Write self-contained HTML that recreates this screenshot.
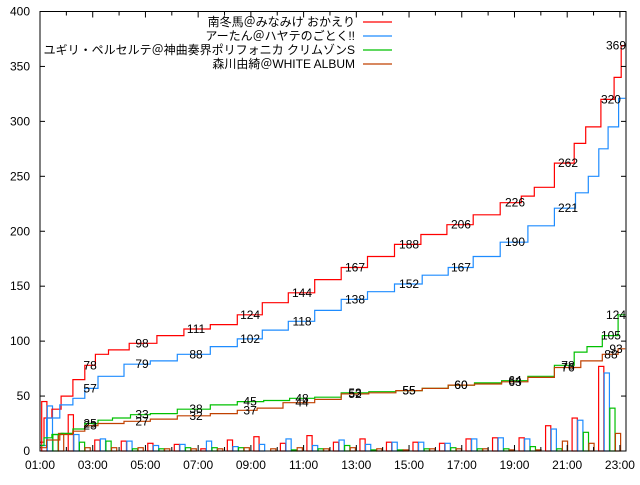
<!DOCTYPE html>
<html><head><meta charset="utf-8"><style>
html,body{margin:0;padding:0;background:#fff;}
svg text{font-family:"Liberation Sans","Noto Sans CJK JP",sans-serif;font-size:12px;fill:#000;}
</style></head><body>
<svg id="chart" width="640" height="480" viewBox="0 0 640 480" xmlns="http://www.w3.org/2000/svg">
<rect x="0" y="0" width="640" height="480" fill="#fff"/>
<g id="bars"></g>
<g id="lines"></g>
<g id="labels"></g>
<g id="axes"></g>
<g id="legend"></g>
</svg>
<script>
const names = ["南冬馬＠みなみけ おかえり","アーたん＠ハヤテのごとく!!","ユギリ・ペルセルテ＠神曲奏界ポリフォニカ クリムゾンS","森川由綺＠WHITE ALBUM"];
const colors = ["#ff0000","#1e8cff","#00c000","#c04000"];
const hours = [1,2,3,4,5,6,7,8,9,10,11,12,13,14,15,16,17,18,19,20,21,22];
const barsRed   = [45,33,10,9,7,6,2,10,13,7,14,8,11,8,8,7,11,12,12,23,30,77];
const barsBlue  = [41,15,11,9,5,6,9,4,6,11,5,10,6,8,8,7,11,12,11,20,28,71];
const barsGreen = [15,8,9,2,2,3,3,3,0,1,2,5,1,1,2,3,2,2,4,2,17,39];
const barsBrown = [16,3,3,3,2,2,2,3,2,3,2,3,2,1,2,2,2,1,1,9,7,16];
const redT   = [1.0,1.3,1.6,2.0,2.5,2.9,3.3,3.9,4.87,6.0,6.92,8.0,8.97,9.9,10.94,11.9,12.95,13.9,15.0,15.9,16.97,17.9,19.02,19.5,20.0,21.03,21.5,21.9,22.66,22.9,23.2];
const redV   = [8,30,38,50,65,78,88,92,98,105,111,115,124,135,144,156,167,177,188,197,206,215,226,232,240,262,280,295,320,340,369];
const blueT  = [1.0,1.5,2.0,2.5,2.9,3.5,4.87,5.5,6.92,8.0,8.97,9.9,10.94,11.9,12.95,13.9,15.0,16.0,16.97,17.9,19.02,20.0,21.03,21.6,22.0,22.4,22.7,23.2];
const blueV  = [5,30,42,48,57,68,79,82,88,95,102,110,118,128,138,145,152,160,167,177,190,205,221,235,250,275,295,321];
const greenT = [1.0,1.3,1.6,2.0,2.5,2.9,3.5,4.0,4.87,5.5,6.92,8.0,8.97,10.0,10.94,11.9,12.95,14.0,15.0,16.0,16.97,18.0,19.02,20.0,21.03,21.5,22.0,22.66,23.2];
const greenV = [5,12,15,16,20,25,28,30,33,34,38,42,45,46,48,49,53,54,55,57,60,62,64,68,78,90,95,105,124];
const brownT = [1.0,1.5,2.0,2.5,2.9,3.5,4.87,5.5,6.92,8.0,8.97,9.5,10.94,11.9,12.95,14.0,15.0,16.0,16.97,18.0,19.02,20.0,21.03,22.0,22.66,23.2];
const brownV = [3,10,15,18,23,25,27,29,32,34,37,39,44,47,52,53,55,57,60,61,63,67,76,82,88,93];
const labelT = [2.9,4.87,6.92,8.97,10.94,12.95,15.0,16.97,19.02,21.03,22.66];
const yTicks = [0,50,100,150,200,250,300,350,400];
const xTickLabels = ["01:00","03:00","05:00","07:00","09:00","11:00","13:00","15:00","17:00","19:00","21:00","23:00"];

const NS="http://www.w3.org/2000/svg";
const X0=40,X1=626,Y0=451,Y1=11.5;
const xs=h=>X0+(h-1)*26.36;
const ys=v=>Y0-v*(Y0-Y1)/400;
function mk(tag,parent,attrs){const e=document.createElementNS(NS,tag);for(const k in attrs)e.setAttribute(k,attrs[k]);parent.appendChild(e);return e;}

const barsG=document.getElementById('bars');
const barSeries=[barsRed,barsBlue,barsGreen,barsBrown];
barSeries.forEach((arr,si)=>{
  arr.forEach((v,i)=>{
    const h=hours[i];
    const x=xs(h)+1.7+(h-1)*0.16+si*5.6;
    const r=mk('rect',barsG,{x:x,y:ys(v),width:5.2,height:Math.max(0,ys(0)-ys(v)),fill:'none',stroke:colors[si],'stroke-width':1.2});
    
    
  });
});

const linesG=document.getElementById('lines');
const labG=document.getElementById('labels');
const series=[[redT,redV],[blueT,blueV],[greenT,greenV],[brownT,brownV]];
const snames=['red','blue','green','brown'];
series.forEach(([T,V],si)=>{
  let d='M'+xs(T[0])+','+ys(V[0]);
  for(let i=1;i<T.length;i++){
    const xm=xs(T[i-1])+(xs(T[i])-xs(T[i-1]))*0.5;
    d+=' H'+xm.toFixed(1)+' V'+ys(V[i]).toFixed(1)+' H'+xs(T[i]).toFixed(1);
  }
  const p=mk('path',linesG,{d:d,fill:'none',stroke:colors[si],'stroke-width':1.2});
  
  
  T.forEach((t,i)=>{
    if(labelT.indexOf(t)<0 && i!==T.length-1) return;
    if(i===T.length-1 && (si===1)) return;
    let lx=xs(t), ly=ys(V[i]);
    if(i===T.length-1) lx=616;
    const tx=mk('text',labG,{x:lx,y:ly+4,'text-anchor':'middle'});
    tx.textContent=V[i];
    
    
  });
});

const ax=document.getElementById('axes');
const frame=mk('rect',ax,{x:X0,y:Y1,width:X1-X0,height:Y0-Y1,fill:'none',stroke:'#000','stroke-width':1});


yTicks.forEach(v=>{
  mk('line',ax,{x1:X0,x2:X0+5,y1:ys(v),y2:ys(v),stroke:'#000'});
  mk('line',ax,{x1:X1,x2:X1-5,y1:ys(v),y2:ys(v),stroke:'#000'});
  const t=mk('text',ax,{x:30,y:ys(v)+4,'text-anchor':'end'});
  t.textContent=v;
  
  
});
for(let h=1;h<=23;h++){
  const big=(h%2===1)?6:4;
  mk('line',ax,{x1:xs(h),x2:xs(h),y1:Y0,y2:Y0-big,stroke:'#000'});
  mk('line',ax,{x1:xs(h),x2:xs(h),y1:Y1,y2:Y1+big,stroke:'#000'});
}
xTickLabels.forEach((s,i)=>{
  const t=mk('text',ax,{x:xs(1+2*i),y:469,'text-anchor':'middle'});
  t.textContent=s;
  
  
});

const lg=document.getElementById('legend');
const rowsY=[22,36,50,64];
names.forEach((n,i)=>{
  const t=mk('text',lg,{x:355,y:rowsY[i]+4,'text-anchor':'end'});
  t.textContent=n;
  
  
  const l=mk('line',lg,{x1:363,x2:392,y1:rowsY[i],y2:rowsY[i],stroke:colors[i],'stroke-width':1.2});
  
  
});
</script>
</body></html>
